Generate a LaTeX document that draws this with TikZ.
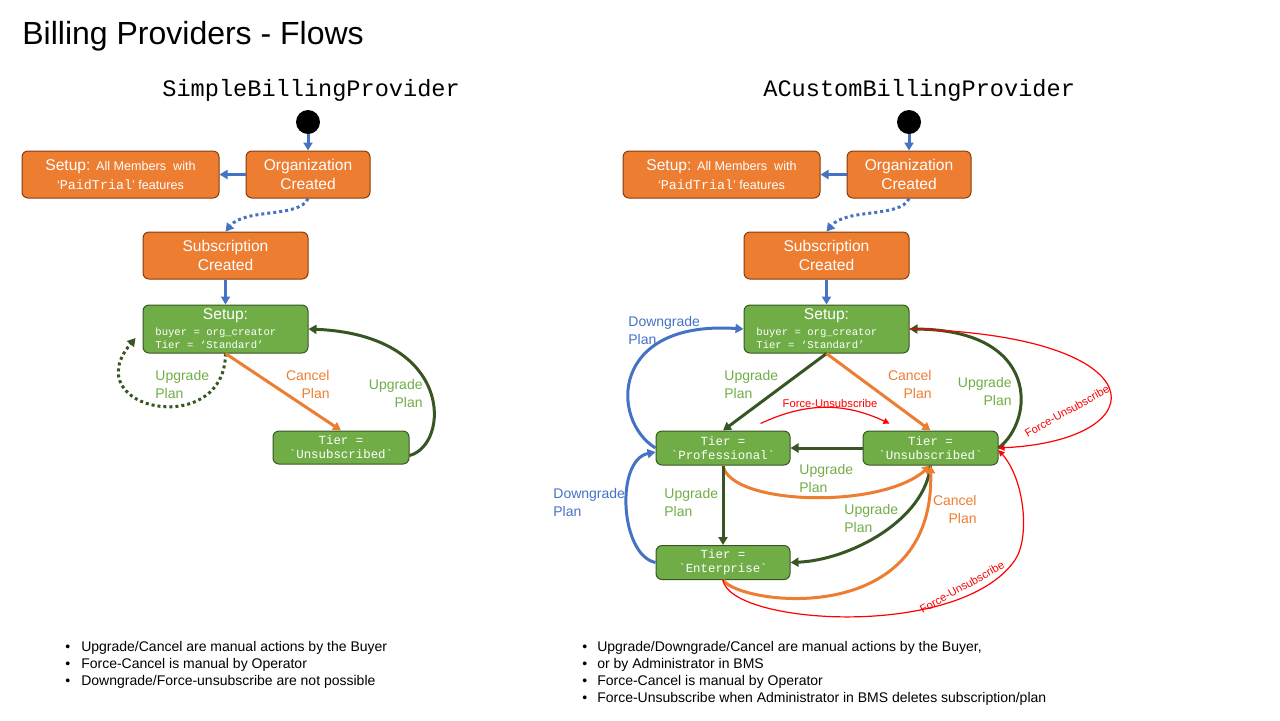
\documentclass[tikz,border=0pt]{standalone}
\usepackage{fontspec}
\setmainfont{Liberation Sans}
\setmonofont{Liberation Mono}
\usetikzlibrary{arrows.meta}

\definecolor{boxorange}{HTML}{ED7D31}
\definecolor{boxbrown}{HTML}{843C0C}
\definecolor{boxgreen}{HTML}{70AD47}
\definecolor{darkgreen}{HTML}{375623}
\definecolor{flowblue}{HTML}{4472C4}
\definecolor{flowred}{HTML}{FF0000}

\tikzset{
	orangebox/.style={draw=boxbrown, fill=boxorange, line width=0.5pt, rounded corners=3pt, text=white, align=center, inner sep=0pt, minimum height=23.5pt, font=\fontsize{7.8}{9.5}\selectfont},
	greenbox/.style={draw=darkgreen, fill=boxgreen, line width=0.5pt, rounded corners=3pt, text=white, align=center, inner sep=0pt},
	tierbox/.style={greenbox, font=\ttfamily\fontsize{6.2}{7}\selectfont},
	startdot/.style={circle, fill=black, inner sep=0pt, minimum size=12pt},
	providertitle/.style={anchor=west, inner sep=0pt, font=\ttfamily\fontsize{11.8}{13}\selectfont},
	setuphead/.style={inner sep=0pt, text=white, font=\fontsize{7.8}{9}\selectfont},
	setupmono/.style={anchor=west, inner sep=0pt, align=left, text=white, font=\ttfamily\fontsize{5.3}{6.5}\selectfont},
	blueflow/.style={draw=flowblue, line width=1.5pt},
	greenflow/.style={draw=darkgreen, line width=1.5pt},
	orangeflow/.style={draw=boxorange, line width=1.5pt},
	redflow/.style={draw=flowred, line width=0.6pt, -{Triangle[length=3pt,width=3pt]}},
	squaredots/.style={dash pattern=on 1.5pt off 1.5pt},
	greenlabel/.style={inner sep=0pt, text=boxgreen, font=\fontsize{7}{9}\selectfont},
	orangelabel/.style={inner sep=0pt, text=boxorange, align=right, font=\fontsize{7}{9}\selectfont},
	bluelabel/.style={inner sep=0pt, text=flowblue, align=left, font=\fontsize{7}{9}\selectfont},
	redlabel/.style={inner sep=0pt, text=flowred, font=\fontsize{5.6}{6.5}\selectfont},
	notes/.style={anchor=north west, inner sep=0pt, align=left, font=\fontsize{7}{8.5}\selectfont}
}

\begin{document}
\begin{tikzpicture}[x=0.5pt, y=-0.5pt, >={Triangle[length=4pt,width=4.5pt]}]
	\useasboundingbox (0,0) rectangle (1280,720);
	\node[anchor=west, inner sep=0pt, font=\fontsize{16}{18}\selectfont] (title) at (22,36) {Billing Providers - Flows};

	% top part is the same for both providers
	\foreach \ox/\side/\name in {0/L/SimpleBillingProvider, 601/R/ACustomBillingProvider}
	{
		\node[providertitle] (prov\side) at ({\ox+162},90) {\name};
		\node[startdot] (dot\side) at ({\ox+308},122) {};
		\node[orangebox, minimum width=62pt] (org\side) at ({\ox+308},174.5) {Organization\\Created};
		\node[orangebox, minimum width=98.5pt] (trial\side) at ({\ox+120.5},174.5) {Setup: {\fontsize{6.3}{8}\selectfont All Members\ \ with}\\{\fontsize{6.3}{8}\selectfont\textquoteleft{\ttfamily\fontsize{6.7}{8}\selectfont PaidTrial}\textquoteright\ features}};
		\node[orangebox, minimum width=82.5pt] (sub\side) at ({\ox+225.5},255.5) {Subscription\\Created};
		\node[greenbox, minimum width=82.5pt, minimum height=24pt] (setup\side) at ({\ox+225.5},329) {};
		\node[setuphead] (setuphead\side) at ({\ox+225.5},316) {Setup:};
		\node[setupmono] (setuptext\side) at ({\ox+155},338.5) {buyer = org\_creator\\Tier = \textquoteleft Standard\textquoteright};
		\draw[blueflow, ->] (dot\side) -- (org\side);
		\draw[blueflow, ->] (org\side) -- (trial\side);
		\draw[blueflow, squaredots, ->] (org\side.south) .. controls ({\ox+300},218) and ({\ox+245},208) .. (sub\side.north);
		\draw[blueflow, ->] (sub\side) -- (setup\side);
	}

	% SimpleBillingProvider
	\node[tierbox, minimum width=68pt, minimum height=16.5pt] (unsubL) at (341,447.5) {Tier =\\\textasciigrave Unsubscribed\textasciigrave};
	\draw[greenflow, squaredots, ->] (setupL.south) .. controls (225,440) and (75,410) .. ([xshift=-3.5pt,yshift=-4.5pt]setupL.west);
	\draw[orangeflow, ->] (setupL.south) -- (unsubL.north);
	\draw[greenflow, ->] ([yshift=-4pt]unsubL.east) .. controls (450,445) and (455,335) .. (setupL.east);
	\node[greenlabel, anchor=west, align=left] (upL1) at (155,384) {Upgrade\\Plan};
	\node[orangelabel, anchor=east] (cancelL) at (330,384) {Cancel\\Plan};
	\node[greenlabel, anchor=east, align=right] (upL2) at (423,393) {Upgrade\\Plan};

	% ACustomBillingProvider
	\node[tierbox, minimum width=67pt, minimum height=17pt] (profR) at (723,448) {Tier =\\\textasciigrave Professional\textasciigrave};
	\node[tierbox, minimum width=67.5pt, minimum height=17pt] (unsubR) at (930.5,448) {Tier =\\\textasciigrave Unsubscribed\textasciigrave};
	\node[tierbox, minimum width=67pt, minimum height=17pt] (entR) at (723,562.5) {Tier =\\\textasciigrave Enterprise\textasciigrave};

	\draw[greenflow, ->] (setupR.south) -- (profR.north);
	\draw[orangeflow, ->] (setupR.south) -- (unsubR.north);
	\draw[greenflow, ->] (unsubR.east) .. controls (1035,420) and (1040,330) .. (setupR.east);
	\draw[redflow] (setupR.east) .. controls (1160,335) and (1160,440) .. (unsubR.east);
	\draw[redflow] ([xshift=-15pt,yshift=3.5pt]profR.north east) to[bend left=25] ([xshift=13.5pt,yshift=3.5pt]unsubR.north west);
	\draw[greenflow, ->] (unsubR.west) -- (profR.east);
	\draw[orangeflow, ->] (profR.south) .. controls (730,505) and (880,510) .. (unsubR.south);
	\draw[greenflow, ->] (profR.south) -- (entR.north);
	\draw[greenflow, ->] (unsubR.south) .. controls (925,520) and (850,560) .. (entR.east);
	\draw[orangeflow, ->] (entR.south) .. controls (740,605) and (935,630) .. (unsubR.south);
	\draw[redflow] (entR.south) .. controls (730,625) and (960,640) .. (1015,560) .. controls (1030,538) and (1025,480) .. ([yshift=-1pt]unsubR.east);
	\draw[blueflow, ->] (profR.west) .. controls (610,420) and (610,320) .. (setupR.west);
	\draw[blueflow, ->] (entR.west) .. controls (620,555) and (615,460) .. ([yshift=-2pt]profR.west);

	\node[bluelabel, anchor=west] (downR1) at (628,330) {Downgrade\\Plan};
	\node[greenlabel, anchor=west, align=left] (upR1) at (724,384) {Upgrade\\Plan};
	\node[orangelabel, anchor=east] (cancelR1) at (932,384) {Cancel\\Plan};
	\node[greenlabel, anchor=east, align=right] (upR2) at (1012,391) {Upgrade\\Plan};
	\node[redlabel] (forceR1) at (830,403) {Force-Unsubscribe};
	\node[redlabel, rotate=29] (forceR2) at (1067,411) {Force-Unsubscribe};
	\node[greenlabel, anchor=west, align=left] (upR3) at (799,478) {Upgrade\\Plan};
	\node[bluelabel, anchor=west] (downR2) at (553,502) {Downgrade\\Plan};
	\node[greenlabel, anchor=west, align=left] (upR4) at (664,502) {Upgrade\\Plan};
	\node[greenlabel, anchor=west, align=left] (upR5) at (844,518) {Upgrade\\Plan};
	\node[orangelabel, anchor=east] (cancelR2) at (977,509) {Cancel\\Plan};
	\node[redlabel, rotate=29] (forceR3) at (962,587) {Force-Unsubscribe};

	% notes
	\node[notes] (notesL) at (65,641) {\textbullet\hspace{5.5pt}Upgrade/Cancel are manual actions by the Buyer\\\textbullet\hspace{5.5pt}Force-Cancel is manual by Operator\\\textbullet\hspace{5.5pt}Downgrade/Force-unsubscribe are not possible};
	\node[notes] (notesR) at (582,641) {\textbullet\hspace{5pt}Upgrade/Downgrade/Cancel are manual actions by the Buyer,\\\textbullet\hspace{5pt}or by Administrator in BMS\\\textbullet\hspace{5pt}Force-Cancel is manual by Operator\\\textbullet\hspace{5pt}Force-Unsubscribe when Administrator in BMS deletes subscription/plan};
\end{tikzpicture}
\end{document}
